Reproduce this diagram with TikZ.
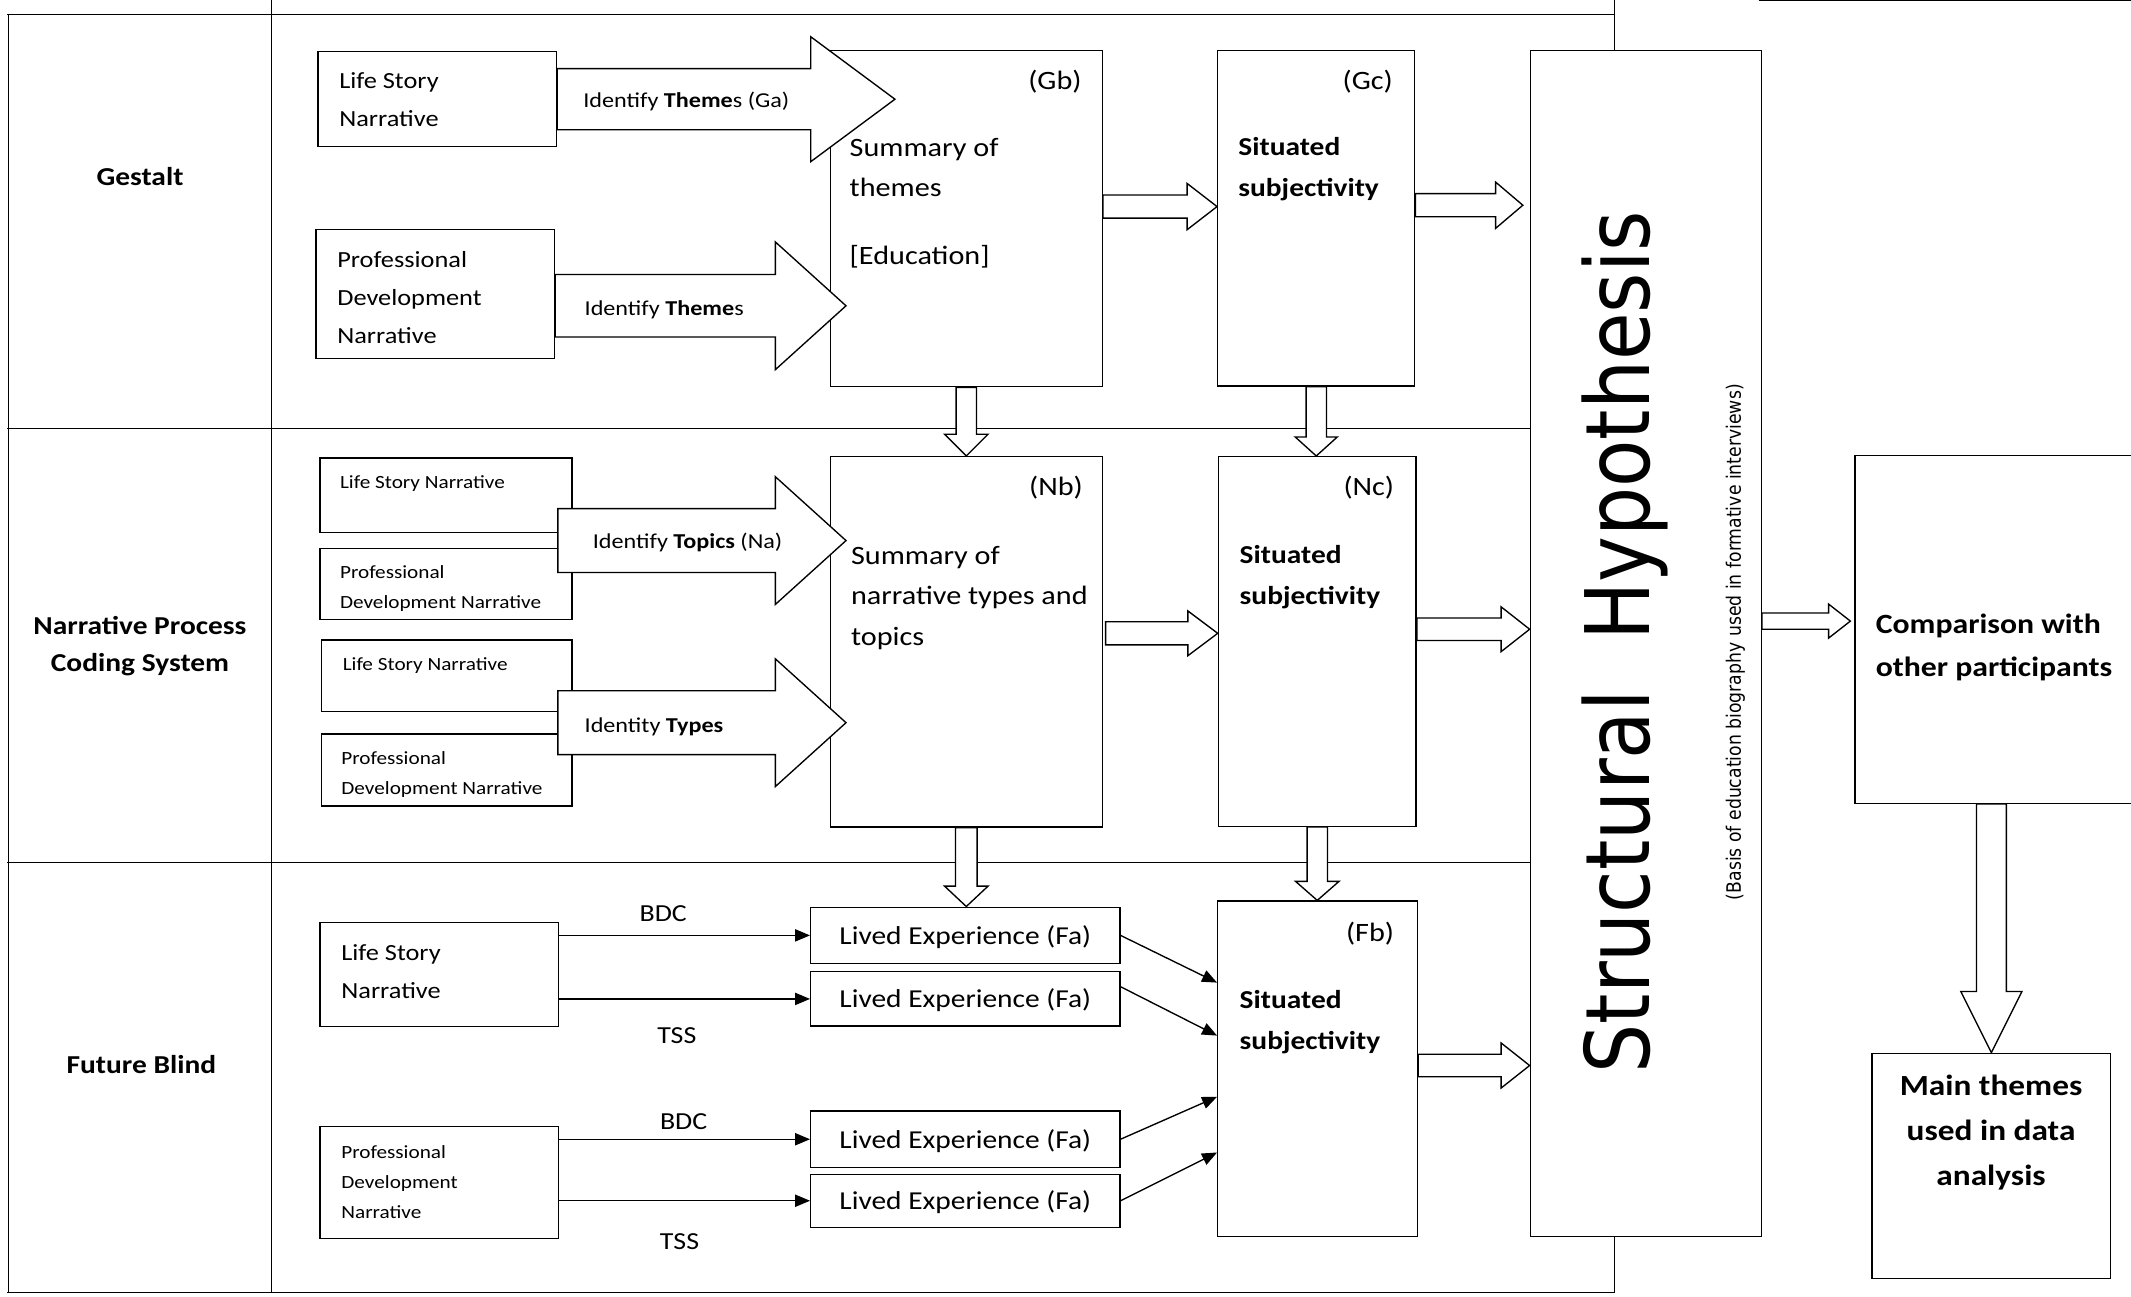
\documentclass[tikz,border=0pt]{standalone}
\usepackage{fontspec}
\setmainfont{Carlito}[FakeStretch=1.14]
\newfontfamily\shfont{DejaVu Sans}
\usepackage{graphicx}
\usetikzlibrary{calc,arrows.meta}
\tikzset{box/.style={draw,line width=1pt,inner sep=0pt},
txt/.style={inner sep=0pt,align=left},
hollow/.style={draw,line width=1pt,fill=white,line join=miter},
thin/.style={line width=1pt,-{Triangle[length=11pt,width=9pt]}},
grid/.style={line width=0.8pt},
fL/.style={font={\fontsize{17}{28}\selectfont}},
fS/.style={font={\fontsize{13.7}{22}\selectfont}},
fA/.style={font={\fontsize{15.6}{20}\selectfont}},
fT/.style={font={\fontsize{19.5}{30}\selectfont}},
fB/.style={font={\bfseries\fontsize{19}{30}\selectfont}},
fR/.style={font={\bfseries\fontsize{19}{27}\selectfont}},
fC/.style={font={\bfseries\fontsize{20.5}{32}\selectfont}},
fM/.style={font={\bfseries\fontsize{21.5}{33}\selectfont}},
fE/.style={font={\fontsize{19}{24}\selectfont},text depth=1pt},
fD/.style={font={\fontsize{18}{20}\selectfont}}}
% hollow block arrows: start, tip, shaft half width, head half width, head length
\newcommand{\hblock}[5]{%
  \draw[hollow] let \p1=#1, \p2=#2 in
    (\x1,\y1+#3) -- (\x2-#5,\y1+#3) -- (\x2-#5,\y1+#4) -- (\x2,\y1)
    -- (\x2-#5,\y1-#4) -- (\x2-#5,\y1-#3) -- (\x1,\y1-#3) -- cycle;}
\newcommand{\vblock}[5]{%
  \draw[hollow] let \p1=#1, \p2=#2 in
    (\x1+#3,\y1) -- (\x1+#3,\y2+#5) -- (\x1+#4,\y2+#5) -- (\x1,\y2)
    -- (\x1-#4,\y2+#5) -- (\x1-#3,\y2+#5) -- (\x1-#3,\y1) -- cycle;}

\begin{document}
\begin{tikzpicture}[x=1pt,y=-1pt]
\useasboundingbox (0,0) rectangle (1568,954);

% table
\draw[grid] (5,11) -- (1188,11);
\draw[grid] (6,11) -- (6,951);
\draw[grid] (200,0) -- (200,951);
\draw[grid] (1188,0) -- (1188,37);
\draw[grid] (1188,910) -- (1188,951);
\draw[grid] (5,315) -- (1126,315);
\draw[grid] (5,634.6) -- (1126,634.6);
\draw[grid] (5,951) -- (1188,951);
\draw[grid] (1294,0.5) -- (1568,0.5);

\node[fR,align=center,inner sep=0pt] (gest) at (103,130) {Gestalt};
\node[fR,align=center,inner sep=0pt] (npcs) at (103,475.5) {Narrative Process\\Coding System};
\node[fR,align=center,inner sep=0pt] (fblind) at (104,783) {Future Blind};

% boxes
\node[box,minimum width=175.5pt,minimum height=70pt] (ls1) at (321.75,73) {};
\node[box,minimum width=175.5pt,minimum height=95pt] (pd1) at (320.25,216.5) {};
\node[box,minimum width=200pt,minimum height=247.5pt] (gb) at (711,160.75) {};
\node[box,minimum width=145pt,minimum height=247pt] (gc) at (968.5,160.5) {};
\node[box,minimum width=185.5pt,minimum height=55pt] (ls2) at (328.25,364.5) {};
\node[box,minimum width=185.5pt,minimum height=52.5pt] (pd2) at (328.25,429.75) {};
\node[box,minimum width=184.5pt,minimum height=52.5pt] (ls3) at (328.75,497.25) {};
\node[box,minimum width=184.5pt,minimum height=53pt] (pd3) at (328.75,566.5) {};
\node[box,minimum width=200pt,minimum height=272.5pt] (nb) at (711,472.25) {};
\node[box,minimum width=145.5pt,minimum height=272pt] (nc) at (969.25,472) {};
\node[box,minimum width=175.5pt,minimum height=76.5pt] (ls4) at (323.25,717.25) {};
\node[box,minimum width=175.5pt,minimum height=82.5pt] (pd4) at (323.25,870.25) {};
\node[box,fE,minimum width=227.5pt,minimum height=41.5pt] (le1) at (710.25,688.25) {Lived Experience (Fa)};
\node[box,fE,minimum width=227.5pt,minimum height=40pt] (le2) at (710.25,735) {Lived Experience (Fa)};
\node[box,fE,minimum width=227.5pt,minimum height=41.5pt] (le3) at (710.25,838.25) {Lived Experience (Fa)};
\node[box,fE,minimum width=227.5pt,minimum height=39pt] (le4) at (710.25,883.5) {Lived Experience (Fa)};
\node[box,minimum width=147pt,minimum height=247pt] (fb) at (969.5,786.5) {};
\node[box,minimum width=170pt,minimum height=873pt] (sh) at (1211,473.5) {};
\node[box,minimum width=225pt,minimum height=256pt] (comp) at (1477.5,463) {};
\node[box,minimum width=175.5pt,minimum height=165.5pt] (main) at (1465.25,857.75) {};

% texts
\node[txt,fL,anchor=west] (ls1t) at (249.5,73) {Life Story\\Narrative};
\node[txt,fL,anchor=west] (pd1t) at (248,219) {Professional\\Development\\Narrative};
\node[txt,fS,anchor=west] (ls2t) at (250,356) {Life Story Narrative};
\node[txt,fS,anchor=west] (pd2t) at (250,433) {Professional\\Development Narrative};
\node[txt,fS,anchor=west] (ls3t) at (252,490) {Life Story Narrative};
\node[txt,fS,anchor=west] (pd3t) at (251,570) {Professional\\Development Narrative};
\node[txt,fL,anchor=west] (ls4t) at (251,715) {Life Story\\Narrative};
\node[txt,fS,anchor=west] (pd4t) at (251,870) {Professional\\Development\\Narrative};
\node[txt,fT,anchor=west] (gbt) at (625,149.5) {Summary of\\themes\\[20pt][Education]};
\node[txt,fT,anchor=east] (gbtag) at (796,60) {(Gb)};
\node[txt,fB,anchor=west] (gct) at (911,124.5) {Situated\\subjectivity};
\node[txt,fT,anchor=east] (gctag) at (1025,60) {(Gc)};
\node[txt,fT,anchor=west] (nbt) at (626,440) {Summary of\\narrative types and\\topics};
\node[txt,fT,anchor=east] (nbtag) at (797,359) {(Nb)};
\node[txt,fB,anchor=west] (nct) at (912,424.5) {Situated\\subjectivity};
\node[txt,fT,anchor=east] (nctag) at (1026,359) {(Nc)};
\node[txt,fB,anchor=west] (fbt) at (912,752) {Situated\\subjectivity};
\node[txt,fT,anchor=east] (fbtag) at (1026,687) {(Fb)};
\node[txt,fC,anchor=west] (compt) at (1380,476.5) {Comparison with\\other participants};
\node[txt,fM,align=center] (maint) at (1465,833.5) {Main themes\\used in data\\analysis};
\node[rotate=90,anchor=base,inner sep=0pt,font={\shfont\fontsize{57}{57}\selectfont}] (shlab) at (1214,472.5) {\scalebox{1}[1.15]{Structural\ \ Hypothesis}};
\node[rotate=90,anchor=base,inner sep=0pt,font={\shfont\fontsize{12.7}{14}\selectfont}] (shnote) at (1281,472.5) {\scalebox{1}[1.15]{(Basis of education biography used in formative interviews)}};

% fat arrows with labels
\hblock{(ls1.east)}{([xshift=48pt]gb.west)}{22.5pt}{46pt}{62pt}
\hblock{([yshift=-8.5pt]pd1.east)}{([xshift=12pt]gb.west)}{23pt}{47pt}{52pt}
\hblock{($(ls2.south east)!.5!(pd2.north east)+(-11,0)$)}{([xshift=12pt]nb.west)}{23.5pt}{47pt}{52pt}
\hblock{($(ls3.south east)!.5!(pd3.north east)+(-11,0)$)}{([xshift=12pt]nb.west)}{23.5pt}{47pt}{52pt}
\node[txt,fA,anchor=west] (galab) at (429,75) {Identify \textbf{Theme}s (Ga)};
\node[txt,fA,anchor=west] (thlab) at (430,228) {Identify \textbf{Theme}s};
\node[txt,fA,anchor=west] (tolab) at (436,399) {Identify \textbf{Topics} (Na)};
\node[txt,fA,anchor=west] (tylab) at (430,535) {Identity \textbf{Types}};

% hollow arrows
\hblock{(gb.east |- 0,152)}{(gc.west)}{8.5pt}{17pt}{22pt}
\hblock{(gc.east |- 0,151)}{([xshift=-5pt]sh.west)}{8.5pt}{17pt}{20pt}
\hblock{($(nb.east |- 0,466)+(2,0)$)}{(nc.west)}{8.5pt}{16.5pt}{22pt}
\hblock{(nc.east |- 0,463)}{(sh.west)}{8.3pt}{16.5pt}{21pt}
\hblock{(fb.east |- 0,784)}{(sh.west)}{8.3pt}{16.6pt}{21pt}
\hblock{(sh.east |- 0,457)}{([xshift=-3pt]comp.west)}{6pt}{12.5pt}{16pt}
\vblock{(gb.south)}{(nb.north)}{7.5pt}{16pt}{16pt}
\vblock{(gc.south)}{(nc.north)}{7.5pt}{15.5pt}{14pt}
\vblock{(nb.south)}{(le1.north)}{8pt}{16pt}{15pt}
\vblock{(nc.south)}{(fb.north)}{7.5pt}{16pt}{14pt}
\vblock{(main.north |- comp.south)}{(main.north)}{11pt}{22.5pt}{45pt}

% thin arrows
\draw[thin] (ls4.east |- le1.west) -- (le1.west);
\draw[thin] (ls4.east |- le2.west) -- (le2.west);
\draw[thin] (pd4.east |- le3.west) -- (le3.west);
\draw[thin] (pd4.east |- le4.west) -- (le4.west);
\node[fD,inner sep=0pt] (bdc1) at (488,672) {BDC};
\node[fD,inner sep=0pt] (tss1) at (498,762) {TSS};
\node[fD,inner sep=0pt] (bdc2) at (503,825) {BDC};
\node[fD,inner sep=0pt] (tss2) at (500,913.5) {TSS};
\draw[thin] (le1.east) -- (fb.west |- 0,723);
\draw[thin] ([yshift=9pt]le2.east) -- (fb.west |- 0,762);
\draw[thin] (le3.east) -- (fb.west |- 0,807);
\draw[thin] (le4.east) -- (fb.west |- 0,848);
\end{tikzpicture}
\end{document}
